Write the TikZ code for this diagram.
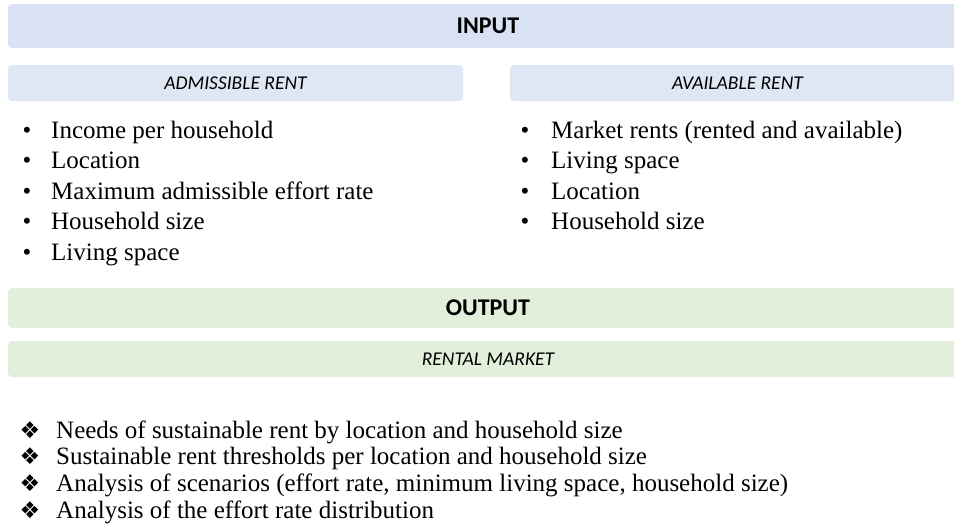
\documentclass[tikz,border=0pt]{standalone}
\usepackage{fontspec}
\setmainfont{Liberation Serif}
\newfontfamily\headfont{Carlito}
\newfontfamily\symfont{DejaVu Sans}

\definecolor{inblue}{HTML}{D9E2F3}
\definecolor{subblue}{HTML}{DEE7F3}
\definecolor{outgreen}{HTML}{E2EFDA}

\tikzset{
  bar/.style = {rounded corners=4pt, inner sep=0pt, font=\headfont},
  mainbar/.style = {bar, minimum width=960pt, font=\headfont\bfseries\fontsize{24}{28}\selectfont},
  subbar/.style = {bar, minimum height=36pt, font=\headfont\itshape\fontsize{19.5}{23}\selectfont},
  item/.style = {anchor=base west, inner sep=0pt, font=\fontsize{25}{30}\selectfont},
  dot/.style = {anchor=base, inner sep=0pt, font=\fontsize{25}{30}\selectfont},
  dia/.style = {anchor=base, inner sep=0pt, font=\symfont\fontsize{23}{26}\selectfont}
}

\begin{document}
\begin{tikzpicture}[x=1pt, y=-1pt]
  \clip (0, 0) rectangle (954, 525);
  \fill [white] (0, 0) rectangle (954, 525);

  % input part
  \node [mainbar, fill=inblue, minimum height=44pt] (input) at (488, 26) {INPUT};
  \node [subbar, fill=subblue, minimum width=455pt] (admrent) at (235.5, 83) {ADMISSIBLE RENT};
  \node [subbar, fill=subblue, minimum width=455pt] (avarent) at (737.5, 83) {AVAILABLE RENT};

  \foreach \t [count=\i] in {Income per household, Location,
      Maximum admissible effort rate, Household size, Living space} {
    \node [dot] (admb-\i) at (27, 138 + 30.5*\i - 30.5) {•};
    \node [item] (adm-\i) at (51, 138 + 30.5*\i - 30.5) {\t};
  }
  \foreach \t [count=\i] in {Market rents (rented and available), Living space,
      Location, Household size} {
    \node [dot] (avab-\i) at (525, 138 + 30.5*\i - 30.5) {•};
    \node [item] (ava-\i) at (551, 138 + 30.5*\i - 30.5) {\t};
  }

  % output part
  \node [mainbar, fill=outgreen, minimum height=40pt] (output) at (488, 308) {OUTPUT};
  \node [subbar, fill=outgreen, minimum width=960pt] (rental) at (488, 359) {RENTAL MARKET};

  \foreach \t [count=\i] in {Needs of sustainable rent by location and household size,
      Sustainable rent thresholds per location and household size,
      {Analysis of scenarios (effort rate, minimum living space, household size)},
      Analysis of the effort rate distribution} {
    \node [dia] (resb-\i) at (30, 438 + 26.7*\i - 26.7) {❖};
    \node [item] (res-\i) at (56, 438 + 26.7*\i - 26.7) {\t};
  }
\end{tikzpicture}
\end{document}
